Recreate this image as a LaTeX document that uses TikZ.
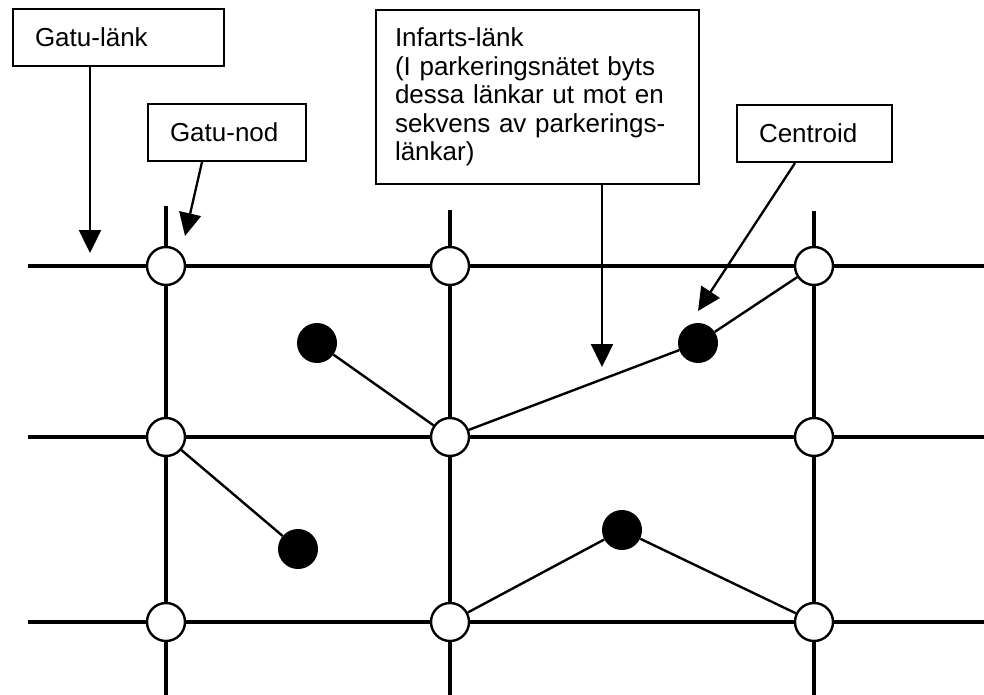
\documentclass[tikz,border=0pt]{standalone}
\usepackage{fontspec}
\setmainfont{Liberation Sans}
\usetikzlibrary{arrows.meta,calc}

\tikzset{
  street/.style={line width=4pt, line cap=rect},
  link/.style={line width=2.4pt},
  pointer/.style={line width=2.3pt, -{Triangle[length=23pt,width=22pt]}},
  streetnode/.style={circle, draw, line width=2.4pt, fill=white, minimum size=38pt, inner sep=0pt},
  centroid/.style={circle, fill=black, minimum size=40pt, inner sep=0pt},
  labelbox/.style={draw, line width=2pt, fill=white, align=left, inner ysep=0pt,
    font=\fontsize{26}{28.5}\selectfont, anchor=north west},
}

\begin{document}
\begin{tikzpicture}[x=1pt,y=-1pt]
\useasboundingbox (0,0) rectangle (984,695);

% street grid: end points of the links
\coordinate (h1w) at (30,266);  \coordinate (h1e) at (984,266);
\coordinate (h2w) at (30,437);  \coordinate (h2e) at (984,437);
\coordinate (h3w) at (30,622);  \coordinate (h3e) at (984,622);
\coordinate (v1n) at (166,208); \coordinate (v1s) at (166,695);
\coordinate (v2n) at (450,212); \coordinate (v2s) at (450,695);
\coordinate (v3n) at (814,213); \coordinate (v3s) at (814,695);

\draw[street] (h1w) -- (h1e);
\draw[street] (h2w) -- (h2e);
\draw[street] (h3w) -- (h3e);
\draw[street] (v1n) -- (v1s);
\draw[street] (v2n) -- (v2s);
\draw[street] (v3n) -- (v3s);

% street nodes
\node[streetnode] (n11) at (166,266) {};
\node[streetnode] (n12) at (450,266) {};
\node[streetnode] (n13) at (814,266) {};
\node[streetnode] (n21) at (166,437) {};
\node[streetnode] (n22) at (450,437) {};
\node[streetnode] (n23) at (814,437) {};
\node[streetnode] (n31) at (166,622) {};
\node[streetnode] (n32) at (450,622) {};
\node[streetnode] (n33) at (814,622) {};

% centroids
\node[centroid] (cA) at (317,343) {};
\node[centroid] (cB) at (698,343) {};
\node[centroid] (cC) at (298,549) {};
\node[centroid] (cD) at (622,530) {};

% access links
\draw[link] (cA) -- (n22);
\draw[link] (n22) -- (cB);
\draw[link] (cB) -- (n13);
\draw[link] (n21) -- (cC);
\draw[link] (n32) -- (cD);
\draw[link] (cD) -- (n33);

% label boxes
\node[labelbox, minimum width=211pt, minimum height=57pt, text width=167pt, inner xsep=22pt]
      (lbGL) at (12,8) {Gatu-länk};
\node[labelbox, minimum width=158pt, minimum height=57pt, text width=114pt, inner xsep=22pt]
      (lbGN) at (147,103) {Gatu-nod};
\node[labelbox, minimum width=323pt, minimum height=174pt, text width=285pt, inner xsep=19pt]
      (lbIL) at (375,9) {Infarts-länk\\(I parkeringsnätet byts\\dessa länkar ut mot en\\sekvens av parkerings-\\länkar)};
\node[labelbox, minimum width=155pt, minimum height=57pt, text width=111pt, inner xsep=22pt]
      (lbC) at (736,104) {Centroid};

% pointers
\coordinate (tGL) at (90,253);
\coordinate (tGN) at (185,236);
\coordinate (tIL) at (602,367);
\coordinate (tC)  at (698,311);
\draw[pointer] ($(lbGL.south west)+(78,0)$) -- (tGL);
\draw[pointer] ($(lbGN.south west)+(55,0)$) -- (tGN);
\draw[pointer] ($(lbIL.south west)+(227,0)$) -- (tIL);
\draw[pointer] ($(lbC.south west)+(59,0)$) -- (tC);
\end{tikzpicture}
\end{document}
